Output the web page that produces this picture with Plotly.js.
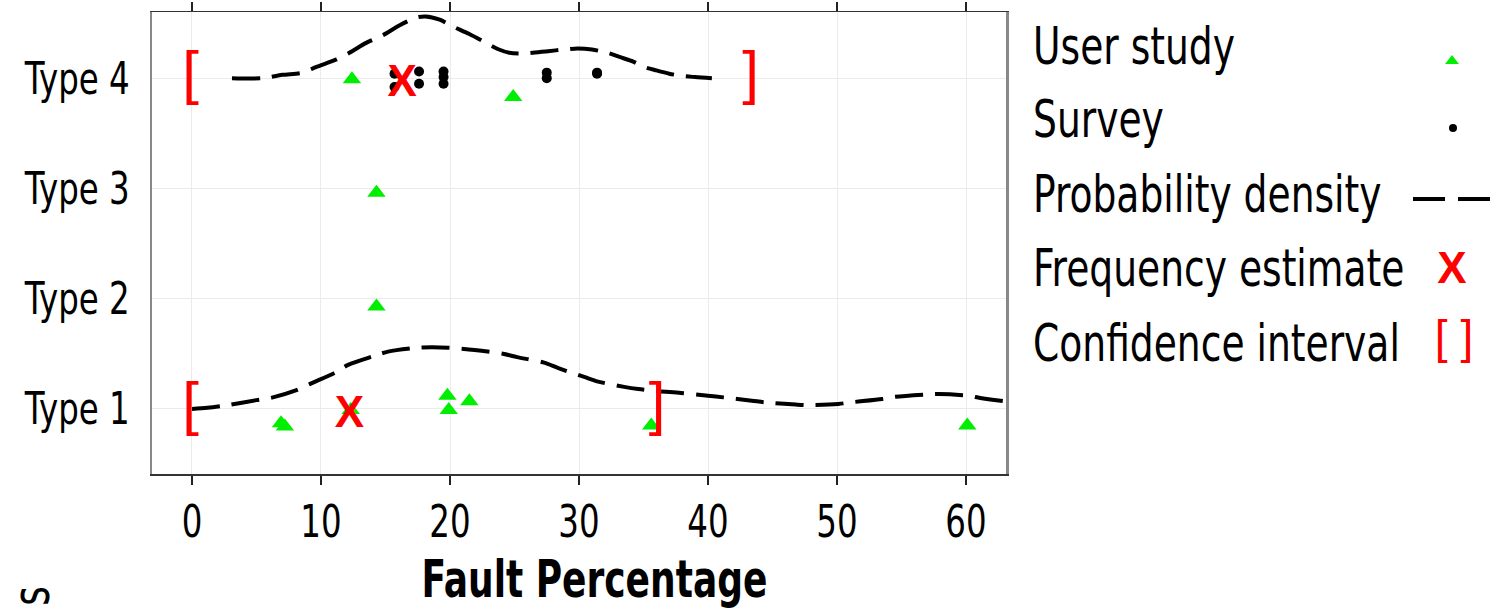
<!DOCTYPE html>
<html>
<head>
<meta charset="utf-8">
<script src="https://cdn.plot.ly/plotly-3.0.1.min.js"></script>
<style>html,body{margin:0;padding:0;background:#fff;}#chart{width:1497px;height:612px;}</style>
</head>
<body>
<div id="chart"></div>
<script>
// ---- data ----
var categories = ['Type 1', 'Type 2', 'Type 3', 'Type 4'];
var categoryPos = [1, 2, 3, 4];
var xTicks = [0, 10, 20, 30, 40, 50, 60];

// User study points (x = fault %, y = category position incl. jitter)
var userX = [6.9, 7.2, 12.3, 19.8, 19.9, 21.5, 35.6, 60.1, 14.3, 14.3, 12.4, 24.9];
var userY = [0.87, 0.84, 0.99, 1.12, 0.99, 1.07, 0.85, 0.85, 1.93, 2.96, 3.99, 3.83];

// Survey points (Type 4 only)
var surveyX = [15.7, 15.7, 17.6, 17.6, 19.5, 19.5, 19.5, 27.5, 27.5, 31.4, 31.4];
var surveyY = [4.04, 3.92, 4.06, 3.95, 4.06, 4.01, 3.95, 4.05, 4.00, 4.04, 4.05];

// Probability density curves (drawn on top of the category row)
var dens4X = [3.1, 5.5, 7.0, 8.6, 9.6, 11.2, 12.2, 13.5, 14.8, 16.1, 17.4, 18.1, 19.2, 20.2, 21.5, 22.8, 23.8, 24.6, 25.8, 27.6, 28.9, 29.9, 31.0, 32.2, 33.2, 34.2, 35.1, 36.0, 37.0, 38.0, 39.0, 40.3];
var dens4Y = [4.00, 4.00, 4.03, 4.05, 4.10, 4.17, 4.23, 4.32, 4.39, 4.48, 4.55, 4.56, 4.53, 4.47, 4.40, 4.32, 4.26, 4.23, 4.225, 4.245, 4.26, 4.27, 4.26, 4.23, 4.19, 4.15, 4.10, 4.07, 4.04, 4.02, 4.01, 4.00];
var dens1X = [0.0, 1.2, 2.8, 5.0, 6.1, 8.1, 9.2, 11.1, 12.1, 14.1, 15.2, 17.5, 18.6, 19.9, 21.9, 24.1, 25.2, 27.3, 28.4, 30.4, 31.4, 33.5, 34.6, 36.2, 37.9, 40.0, 41.2, 43.4, 44.4, 46.8, 47.8, 50.1, 51.1, 53.5, 54.5, 56.8, 57.9, 60.2, 61.1, 63.0, 64.0];
var dens1Y = [1.00, 1.01, 1.035, 1.08, 1.10, 1.17, 1.23, 1.33, 1.40, 1.48, 1.52, 1.555, 1.56, 1.555, 1.535, 1.50, 1.47, 1.42, 1.37, 1.29, 1.25, 1.20, 1.18, 1.16, 1.145, 1.12, 1.105, 1.075, 1.06, 1.04, 1.035, 1.045, 1.06, 1.09, 1.11, 1.13, 1.135, 1.12, 1.10, 1.07, 1.06];

// Frequency estimates and confidence intervals (Type 1, Type 4)
var estX = [12.2, 16.3];
var estY = [1, 4];
var ciLow = [-0.1, -0.1];
var ciHigh = [36.05, 43.3];
var ciY = [1, 4];

// Legend entries
var legendLabels = ['User study', 'Survey', 'Probability density', 'Frequency estimate', 'Confidence interval'];

// ---- styling ----
var NARROW = 'DejaVu Sans Condensed, Liberation Sans Narrow, sans-serif';
var SANS = 'Liberation Sans, Arial, sans-serif';
var GREEN = '#00ee00';
var RED = '#ff0000';
var DENS_LINE = {color: '#000', width: 4, dash: '28px,12px', shape: 'spline', smoothing: 0.8};

var traces = [
  {x: dens1X, y: dens1Y, mode: 'lines', line: DENS_LINE, hoverinfo: 'skip'},
  {x: dens4X, y: dens4Y, mode: 'lines', line: DENS_LINE, hoverinfo: 'skip'},
  {x: userX, y: userY, mode: 'markers', marker: {symbol: 'triangle-up', size: 16, color: GREEN}},
  {x: surveyX, y: surveyY, mode: 'markers', marker: {symbol: 'circle', size: 10, color: '#000'}},
  {x: estX, y: estY, mode: 'text', text: estX.map(function(){return 'X';}), textposition: 'middle center',
   textfont: {family: SANS, size: 44, color: RED, weight: 'bold'}},
  {x: ciLow, y: ciY, mode: 'text', text: ciLow.map(function(){return '[';}), textposition: 'middle center',
   textfont: {family: SANS, size: 60, color: RED}},
  {x: ciHigh, y: ciY, mode: 'text', text: ciHigh.map(function(){return ']';}), textposition: 'middle center',
   textfont: {family: SANS, size: 60, color: RED}},
  // legend key symbols (drawn in a pixel-scaled helper axis to the right)
  {x: [1452], y: [61], xaxis: 'x2', yaxis: 'y2', mode: 'markers', marker: {symbol: 'triangle-up', size: 12, color: GREEN}},
  {x: [1453], y: [128], xaxis: 'x2', yaxis: 'y2', mode: 'markers', marker: {symbol: 'circle', size: 8, color: '#000'}},
  {x: [1413, 1490], y: [199, 199], xaxis: 'x2', yaxis: 'y2', mode: 'lines', line: {color: '#000', width: 4, dash: '32px,13px'}},
  {x: [1452], y: [265], xaxis: 'x2', yaxis: 'y2', mode: 'text', text: ['X'], textposition: 'middle center',
   textfont: {family: SANS, size: 44, color: RED, weight: 'bold'}},
  {x: [1454], y: [341], xaxis: 'x2', yaxis: 'y2', mode: 'text', text: ['[ ]'], textposition: 'middle center',
   textfont: {family: SANS, size: 46, color: RED}}
];

var legendRowY = [46.5, 119.5, 194.5, 268.5, 343.5];
var annotations = legendLabels.map(function(t, i) {
  return {text: t, xref: 'x2', yref: 'y2', x: 1031, y: legendRowY[i], xanchor: 'left', yanchor: 'middle', align: 'left',
          showarrow: false, font: {family: NARROW, size: 51, color: '#000'}};
});
annotations.push({text: '<b>Fault Percentage</b>', xref: 'paper', yref: 'paper', x: (594 - 152) / 1345, y: (474 - 579) / 462,
  xanchor: 'center', yanchor: 'middle', showarrow: false, font: {family: NARROW, size: 51, color: '#000'}});
annotations.push({text: 's', xref: 'paper', yref: 'paper', x: (31 - 152) / 1345, y: (474 - 596) / 462,
  xanchor: 'center', yanchor: 'middle', textangle: -90, showarrow: false, font: {family: NARROW, size: 51, color: '#000'}});

var layout = {
  width: 1497, height: 612,
  margin: {l: 152, r: 0, t: 12, b: 138},
  paper_bgcolor: '#fff', plot_bgcolor: 'rgba(0,0,0,0)',
  showlegend: false,
  xaxis: {
    domain: [0, 854 / 1345], range: [-3.1, 63.1], autorange: false,
    tickvals: xTicks, ticktext: xTicks.map(String),
    showgrid: true, gridcolor: '#ebebeb', gridwidth: 1, zeroline: false,
    showline: true, mirror: 'ticks', linecolor: '#333', linewidth: 1.5,
    ticks: 'outside', ticklen: 9, tickwidth: 1.5, tickcolor: '#222',
    ticklabelstandoff: 0,
    tickfont: {family: NARROW, size: 44, color: '#000'}
  },
  yaxis: {
    range: [0.41, 4.6], autorange: false,
    tickvals: categoryPos, ticktext: categories,
    showgrid: true, gridcolor: '#ebebeb', gridwidth: 1, zeroline: false,
    showline: true, mirror: true, linecolor: '#888', linewidth: 2.5,
    ticks: '', ticklabelstandoff: 11,
    tickfont: {family: NARROW, size: 44, color: '#000'}
  },
  xaxis2: {domain: [0.65, 1], range: [152 + 0.65 * 1345, 1497], autorange: false, visible: false, fixedrange: true},
  yaxis2: {domain: [0, 1], range: [474, 12], autorange: false, visible: false, anchor: 'x2', fixedrange: true},
  annotations: annotations
};

// narrow the condensed text horizontally to match the reference's narrow face,
// and drop the bold "X" glyphs onto their point (glyph sits high in its box)
function adjustTexts(gd) {
  gd.querySelectorAll('text').forEach(function(el) {
    var ff = (el.style.fontFamily || '');
    var t = el.getAttribute('transform') || '';
    if (ff.indexOf('Condensed') >= 0) {
      var bold = el.querySelector('tspan[style*="bold"]') || /bold|700/.test(el.style.fontWeight || '');
      var s = bold ? 0.785 : 0.82;
      var x = parseFloat(el.getAttribute('x') || '0') || 0;
      el.setAttribute('transform', (t + ' translate(' + x + ',0) scale(' + s + ',1) translate(' + (-x) + ',0)').trim());
    } else if (el.textContent === 'X') {
      el.setAttribute('transform', (t + ' translate(0,7)').trim());
    }
  });
}

Plotly.newPlot('chart', traces, layout, {staticPlot: true, displayModeBar: false}).then(function(gd) {
  adjustTexts(gd);
});
</script>
</body>
</html>
